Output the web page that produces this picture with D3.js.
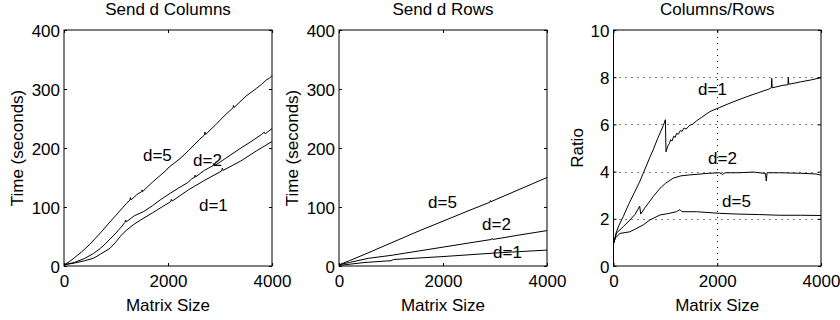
<!DOCTYPE html>
<html>
<head>
<meta charset="utf-8">
<script src="https://cdn.jsdelivr.net/npm/d3@7/dist/d3.min.js"></script>
<style>
  html, body { margin: 0; padding: 0; background: #fff; }
  svg { display: block; font-family: "Liberation Sans", Arial, Helvetica, sans-serif; }
</style>
</head>
<body>
<svg id="chart" width="840" height="320"></svg>
<script>
// ---------- data ----------
const xTicks = [0, 2000, 4000];
const timeTicks = [0, 100, 200, 300, 400];
const ratioTicks = [0, 2, 4, 6, 8, 10];
const titles = ["Send d Columns", "Send d Rows", "Columns/Rows"];
const yLabels = ["Time (seconds)", "Time (seconds)", "Ratio"];
const xLabel = "Matrix Size";

// Send d Columns: [matrix size, seconds]
const colsD5 = [[0,2],[100,7],[200,14],[340,24],[500,37],[700,56],[917,78],[1000,86],[1100,96],[1200,106],[1269,112],[1275,116],[1290,112],[1400,121],[1494,126],[1500,129],[1510,126],[1700,142],[1975,163],[2000,166],[2231,182],[2400,196],[2600,214],[2700,222],[2710,227],[2725,223],[2900,238],[3100,256],[3250,268],[3260,272],[3275,269],[3500,288],[3700,301],[3800,308],[3900,316],[3950,318],[4000,323]];
const colsD2 = [[0,2],[200,6],[400,13],[564,21],[700,30],[800,38],[1000,56],[1100,66],[1173,74],[1185,78],[1200,75],[1350,85],[1525,92],[1700,102],[1850,112],[2038,123],[2200,132],[2391,142],[2455,148],[2510,150],[2520,154],[2530,151],[2700,162],[2865,170],[2880,174],[2895,170],[3100,182],[3385,199],[3600,211],[3800,223],[3850,227],[3870,224],[4000,233]];
const colsD1 = [[0,2],[200,5],[400,9],[564,13],[700,20],[885,30],[1000,41],[1100,52],[1205,61],[1350,71],[1475,78],[1700,90],[1900,101],[2051,109],[2065,113],[2080,110],[2391,129],[2700,145],[3032,161],[3045,166],[3060,162],[3400,178],[3700,195],[4000,211]];

// Send d Rows: [matrix size, seconds]
const rowsD5 = [[0,2],[200,9],[500,20],[1000,39],[1500,58],[2000,76],[2500,94],[2900,108],[2910,111],[2920,109],[3500,131],[4000,150]];
const rowsD2 = [[0,2],[200,6],[562,13],[1000,18],[1500,25],[2000,32],[2500,39],[2933,45],[2945,47],[2960,45],[3500,53],[4000,60]];
const rowsD1 = [[0,1],[500,6],[1000,9],[1050,11],[2000,16],[3000,22],[4000,27]];

// Columns/Rows ratio: [matrix size, ratio]
const ratioD1 = [[0,0.95],[50,1.4],[100,1.7],[189,2.1],[300,2.65],[400,3.1],[500,3.55],[573,3.93],[700,4.6],[765,4.92],[850,5.4],[960,5.95],[1000,6.2],[1012,4.84],[1050,5.1],[1080,5.2],[1100,5.35],[1130,5.3],[1160,5.5],[1190,5.45],[1215,5.62],[1250,5.58],[1290,5.75],[1320,5.7],[1360,5.85],[1400,5.8],[1471,5.97],[1520,6.0],[1600,6.15],[1700,6.3],[1856,6.54],[2048,6.72],[2300,6.95],[2565,7.17],[2800,7.35],[3000,7.5],[3042,7.55],[3050,7.95],[3060,7.55],[3250,7.65],[3362,7.68],[3370,7.98],[3380,7.7],[3600,7.8],[3800,7.88],[4000,7.98]];
const ratioD2 = [[0,0.95],[60,1.4],[189,1.67],[317,1.95],[420,2.2],[505,2.54],[525,2.2],[600,2.45],[765,2.94],[900,3.3],[1000,3.5],[1150,3.72],[1300,3.82],[1471,3.86],[1856,3.93],[2048,3.95],[2100,3.88],[2150,3.95],[2400,3.95],[2700,3.98],[2930,3.92],[2946,3.6],[2960,3.95],[3200,3.95],[3600,3.93],[3900,3.9],[4000,3.85]];
const ratioD5 = [[0,0.95],[40,1.2],[125,1.38],[317,1.45],[450,1.6],[573,1.74],[700,1.95],[894,2.16],[1050,2.22],[1215,2.3],[1280,2.39],[1320,2.3],[1600,2.3],[2048,2.23],[2400,2.2],[2800,2.18],[3200,2.15],[3600,2.15],[4000,2.14]];

// curve labels: [text, matrix size, value]
const colsLabels = [["d=5",1519,178],["d=2",2481,169.5],["d=1",2596,92.4]];
const rowsLabels = [["d=5",1712,98],["d=2",2750,61],["d=1",2962,13.6]];
const ratioLabels = [["d=1",1629,7.25],["d=2",1822,4.32],["d=5",2092,2.5]];

// ---------- layout ----------
const svg = d3.select("#chart");
const FS = 17;
const plotTop = 30, plotBottom = 266;
const panels = [
  { x0: 64, x1: 272, yMax: 400, yTicks: timeTicks, series: [colsD5, colsD2, colsD1], labels: colsLabels, grid: false, ylabX: 23 },
  { x0: 339, x1: 547, yMax: 400, yTicks: timeTicks, series: [rowsD5, rowsD2, rowsD1], labels: rowsLabels, grid: false, ylabX: 298 },
  { x0: 613.5, x1: 821, yMax: 10, yTicks: ratioTicks, series: [ratioD1, ratioD2, ratioD5], labels: ratioLabels, grid: true, ylabX: 582.5 }
];

panels.forEach((p, i) => {
  const x = d3.scaleLinear().domain([0, 4000]).range([p.x0, p.x1]);
  const y = d3.scaleLinear().domain([0, p.yMax]).range([plotBottom, plotTop]);
  const g = svg.append("g");

  // grid
  if (p.grid) {
    const gg = g.append("g").attr("stroke", "#000").attr("stroke-width", 1).attr("stroke-dasharray", "1,5");
    p.yTicks.filter(v => v > 0 && v < p.yMax).forEach(v => {
      gg.append("line").attr("x1", x(0)).attr("x2", x(4000)).attr("y1", Math.round(y(v)) + 0.5).attr("y2", Math.round(y(v)) + 0.5);
    });
    xTicks.filter(v => v > 0 && v < 4000).forEach(v => {
      gg.append("line").attr("y1", y(0)).attr("y2", y(p.yMax)).attr("x1", Math.round(x(v)) + 0.5).attr("x2", Math.round(x(v)) + 0.5);
    });
  }

  // axes
  const ax = (axis, tr) => g.append("g").attr("transform", tr).call(axis)
    .call(s => s.select(".domain").remove())
    .call(s => s.selectAll(".tick line").attr("stroke", "#000"))
    .call(s => s.selectAll("text").attr("font-size", FS).attr("font-family", "Liberation Sans, Arial, sans-serif").attr("fill", "#000"));

  const bx = ax(d3.axisBottom(x).tickValues(xTicks).tickSize(-3).tickSizeOuter(0).tickFormat(d3.format("d")), `translate(0,${plotBottom})`);
  bx.selectAll("text").attr("dy", null).attr("y", 21);
  ax(d3.axisTop(x).tickValues(xTicks).tickSize(-3).tickSizeOuter(0).tickFormat(""), `translate(0,${plotTop})`);
  const ly = ax(d3.axisLeft(y).tickValues(p.yTicks).tickSize(-3).tickSizeOuter(0).tickPadding(4).tickFormat(d3.format("d")), `translate(${p.x0},0)`);
  ly.selectAll("text").attr("dy", "0.36em");
  ax(d3.axisRight(y).tickValues(p.yTicks).tickSize(-3).tickSizeOuter(0).tickFormat(""), `translate(${p.x1},0)`);

  // box
  g.append("rect").attr("x", p.x0).attr("y", plotTop).attr("width", p.x1 - p.x0).attr("height", plotBottom - plotTop)
    .attr("fill", "none").attr("stroke", "#000").attr("stroke-width", 1);

  // lines
  const line = d3.line().x(d => x(d[0])).y(d => y(d[1]));
  p.series.forEach(s => {
    g.append("path").datum(s).attr("d", line).attr("fill", "none").attr("stroke", "#000").attr("stroke-width", 1);
  });

  // curve labels
  p.labels.forEach(l => {
    g.append("text").attr("x", x(l[1])).attr("y", y(l[2])).attr("font-size", FS).attr("fill", "#000").text(l[0]);
  });

  // title
  g.append("text").attr("x", (p.x0 + p.x1) / 2).attr("y", 15).attr("text-anchor", "middle")
    .attr("font-size", FS).attr("fill", "#000").text(titles[i]);
  // x label
  g.append("text").attr("x", (p.x0 + p.x1) / 2).attr("y", 311).attr("text-anchor", "middle")
    .attr("font-size", FS).attr("fill", "#000").text(xLabel);
  // y label
  g.append("text").attr("transform", `translate(${p.ylabX},${(plotTop + plotBottom) / 2}) rotate(-90)`)
    .attr("text-anchor", "middle").attr("font-size", FS).attr("fill", "#000").text(yLabels[i]);
});
</script>
</body>
</html>
